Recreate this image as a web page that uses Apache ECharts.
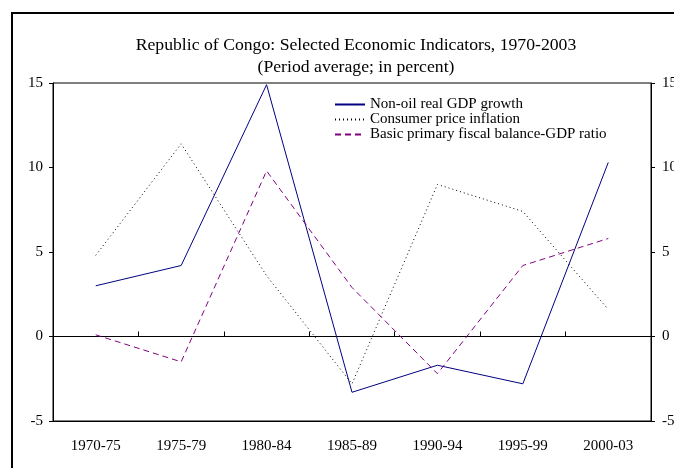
<!DOCTYPE html>
<html>
<head>
<meta charset="utf-8">
<script src="https://cdn.jsdelivr.net/npm/echarts@6/dist/echarts.min.js"></script>
<style>
    html, body { margin: 0; padding: 0; background: #fff; }
    #chart { width: 674px; height: 468px; }
</style>
</head>
<body>
<div id="chart"></div>
<script>
const FONT = 'Liberation Serif';

const periods = ['1970-75', '1975-79', '1980-84', '1985-89', '1990-94', '1995-99', '2000-03'];
const gdpGrowth = [3.0, 4.2, 14.9, -3.3, -1.7, -2.8, 10.3];
const inflation = [4.8, 11.4, 3.6, -2.8, 9.0, 7.4, 1.6];
const fiscalBalance = [0.1, -1.5, 9.8, 2.9, -2.2, 4.2, 5.8];

const chart = echarts.init(document.getElementById('chart'));

function valueAxis(position, margin) {
    return {
        type: 'value',
        position,
        min: -5,
        max: 15,
        interval: 5,
        axisLine: { show: true, lineStyle: { color: '#000', width: 1 } },
        axisTick: { show: true, length: 4, lineStyle: { color: '#000' } },
        axisLabel: { fontFamily: FONT, fontSize: 15, color: '#000', margin },
        splitLine: { show: false }
    };
}

chart.setOption({
    animation: false,
    title: {
        text: 'Republic of Congo: Selected Economic Indicators, 1970-2003\n(Period average; in percent)',
        left: 351,
        top: 29,
        textAlign: 'center',
        textStyle: { fontFamily: FONT, fontSize: 17.7, fontWeight: 'normal', color: '#000', lineHeight: 22 }
    },
    graphic: [{
        type: 'rect',
        shape: { x: 12, y: 13, width: 720, height: 520 },
        style: { fill: 'none', stroke: '#000', lineWidth: 2 },
        silent: true
    }],
    legend: {
        orient: 'vertical',
        left: 329,
        top: 92,
        itemWidth: 30,
        itemHeight: 10,
        itemGap: 0,
        itemTextGap: 2,
        itemStyle: { opacity: 0 },
        textStyle: { fontFamily: FONT, fontSize: 15, color: '#000', lineHeight: 14.5 },
        data: ['Non-oil real GDP growth', 'Consumer price inflation', 'Basic primary fiscal balance-GDP ratio']
    },
    grid: {
        left: 53,
        right: 23,
        top: 83,
        bottom: 47,
        outerBoundsMode: 'none',
        containLabel: false,
        show: true,
        borderColor: '#000',
        borderWidth: 1
    },
    xAxis: [{
        type: 'category',
        data: periods,
        position: 'bottom',
        axisLine: { onZero: false, lineStyle: { color: '#000' } },
        axisTick: { show: false },
        axisLabel: { fontFamily: FONT, fontSize: 15, color: '#000', margin: 18 }
    }, {
        type: 'category',
        data: periods,
        position: 'bottom',
        axisLine: { onZero: true, onZeroAxisIndex: 0, lineStyle: { color: '#000' } },
        axisTick: { show: true, inside: true, length: 5, lineStyle: { color: '#000' } },
        axisLabel: { show: false }
    }],
    yAxis: [valueAxis('left', 10), valueAxis('right', 11)],
    series: [{
        name: 'Non-oil real GDP growth',
        type: 'line',
        data: gdpGrowth,
        symbol: 'none',
        lineStyle: { color: '#000080', width: 1 },
        itemStyle: { color: '#000080' }
    }, {
        name: 'Consumer price inflation',
        type: 'line',
        data: inflation,
        symbol: 'none',
        lineStyle: { color: '#000', width: 1, type: [1, 3] },
        itemStyle: { color: '#000' }
    }, {
        name: 'Basic primary fiscal balance-GDP ratio',
        type: 'line',
        data: fiscalBalance,
        symbol: 'none',
        lineStyle: { color: '#800080', width: 1, type: [6, 4] },
        itemStyle: { color: '#800080' }
    }]
});

window.addEventListener('resize', () => {
    chart.resize();
});
</script>
</body>
</html>
